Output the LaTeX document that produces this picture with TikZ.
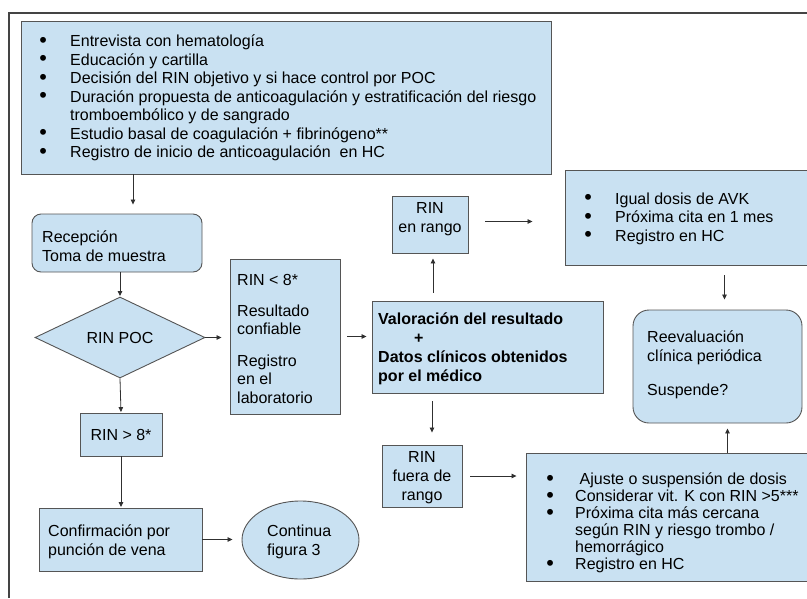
\documentclass[tikz,border=0pt]{standalone}
\usepackage{fontspec}
\setmainfont{Liberation Sans}
\usetikzlibrary{shapes.geometric,arrows.meta}
\definecolor{bfill}{HTML}{C9E1F2}
\definecolor{bdraw}{HTML}{555555}
\definecolor{lnk}{HTML}{303030}
\newcommand\bigbul{\smash{\raisebox{-0.6pt}{\scalebox{1.35}{\textbullet}}}}
\newcommand\bul{\makebox[30pt][l]{\hspace{-0.8pt}\bigbul}}
\newcommand\bulb{\makebox[28pt][l]{\hspace{-0.8pt}\bigbul}}
\begin{document}
\begin{tikzpicture}[x=1pt,y=-1pt,
  box/.style={draw=bdraw, fill=bfill, line width=0.9pt, inner sep=0pt},
  txt/.style={inner sep=0pt, align=left, font=\fontsize{16}{18.5}\selectfont},
  conn/.style={draw=lnk, line width=0.8pt, -{Triangle[length=5pt,width=4.5pt]}}]
\useasboundingbox (0,0) rectangle (807,598);
\draw[draw=bdraw!80!black, line width=1.1pt] (9,598) -- (9,13) -- (807,13);

% boxes
\node[box, minimum width=530, minimum height=153] (top) at (286,97.5) {};
\node[box, rounded corners=9pt, minimum width=170, minimum height=58] (rec) at (117,243) {};
\node[box, diamond, minimum width=170, minimum height=81, aspect=2.1] (dia) at (120,337.5) {};
\node[box, minimum width=110, minimum height=155] (r8) at (285,336.5) {};
\node[box, minimum width=76, minimum height=57] (rango) at (430,224.5) {};
\node[box, minimum width=231, minimum height=92] (val) at (487.5,347) {};
\node[box, minimum width=250, minimum height=95] (igual) at (690,217.5) {};
\node[box, rounded corners=16pt, minimum width=169, minimum height=113] (reev) at (717.5,366.5) {};
\node[box, minimum width=80, minimum height=62] (fuera) at (422,476) {};
\node[box, minimum width=289, minimum height=128] (br) at (670.5,517) {};
\node[box, minimum width=82, minimum height=43] (gt8) at (121,434.5) {};
\node[box, minimum width=163, minimum height=63] (conf) at (120.5,539.5) {};
\node[box, ellipse, minimum width=117, minimum height=78] (cont) at (300.5,540) {};

% texts
\node[txt, anchor=west] (tTop) at (40,98) {%
\bul Entrevista con hematología\\
\bul Educación y cartilla\\
\bul Decisión del RIN objetivo y si hace control por POC\\
\bul Duración propuesta de anticoagulación y estratificación del riesgo\\
\hspace*{30pt}tromboembólico y de sangrado\\
\bul Estudio basal de coagulación + fibrinógeno**\\
\bul Registro de inicio de anticoagulación\ \ en HC};
\node[txt, anchor=west, font=\fontsize{16}{19}\selectfont] (tRec) at (42,246) {Recepción\\Toma de muestra};
\node[txt] (tDia) at (120,338) {RIN POC};
\node[txt, anchor=west] (tR8) at (237,338.5) {RIN < 8*\\[12.5pt]Resultado\\confiable\\[13pt]Registro\\en el\\laboratorio};
\node[txt, align=center, font=\fontsize{16}{19}\selectfont] (tRango) at (430,219.5) {RIN\\en rango};
\node[txt, anchor=west, font=\fontsize{16}{19}\selectfont\bfseries] (tVal) at (378,348.5) {Valoración del resultado\\\hspace*{36pt}+\\Datos clínicos obtenidos\\por el médico};
\node[txt, anchor=west] (tIgual) at (585,218.5) {\bul Igual dosis de AVK\\\bul Próxima cita en 1 mes\\\bul Registro en HC};
\node[txt, anchor=west, font=\fontsize{16}{19}\selectfont] (tReev) at (647,365) {Reevaluación\\clínica periódica\\[15pt]Suspende?};
\node[txt, align=center, font=\fontsize{16}{19}\selectfont] (tFuera) at (422,478) {RIN\\fuera de\\rango};
\node[txt, anchor=west, font=\fontsize{16}{17}\selectfont] (tBr) at (547,523) {%
\bulb\ Ajuste o suspensión de dosis\\
\bulb Considerar vit. K con RIN >5***\\
\bulb Próxima cita más cercana\\
\hspace*{28pt}según RIN y riesgo trombo /\\
\hspace*{28pt}hemorrágico\\
\bulb Registro en HC};
\node[txt] (tGt8) at (121,435) {RIN > 8*};
\node[txt, anchor=west, font=\fontsize{16}{19}\selectfont] (tConf) at (48,542) {Confirmación por\\punción de vena};
\node[txt, anchor=west, font=\fontsize{16}{19}\selectfont] (tCont) at (267,542) {Continua\\figura 3};

% connectors
\draw[conn, shorten >=9pt] ([xshift=16pt]top.south -| rec.north) -- ([xshift=16pt]rec.north);
\draw[conn, shorten >=0.5pt] (rec.south -| dia.north) -- (dia.north);
\draw[conn, shorten >=8pt] (dia.east) -- (dia.east -| r8.west);
\draw[conn, shorten <=7pt, shorten >=5pt] (r8.east) -- (r8.east -| val.west);
\draw[conn, shorten <=8pt, shorten >=5pt] ([xshift=3pt]val.north -| rango.south) -- ([xshift=3pt]rango.south);
\draw[conn, shorten <=17pt, shorten >=32pt] ([yshift=3pt]rango.east) -- ([yshift=3pt]rango.east -| igual.west);
\draw[conn, shorten <=10pt, shorten >=10pt] ([xshift=7pt]igual.south -| reev.north) -- ([xshift=7pt]reev.north);
\draw[conn, shorten <=8pt, shorten >=12pt] ([xshift=2pt]val.south -| rango.south) -- ([xshift=2pt]fuera.north -| rango.south);
\draw[conn, shorten <=8pt, shorten >=9pt] (fuera.east) -- (fuera.east -| br.west);
\draw[conn, shorten >=5pt] ([xshift=10pt]br.north -| reev.south) -- ([xshift=10pt]reev.south);
\draw[conn, shorten >=0.5pt] (dia.south) -- (gt8.north);
\draw[conn, shorten >=0.5pt] (gt8.south) -- (conf.north -| gt8.south);
\draw[conn, shorten >=9pt] (conf.east) -- (conf.east -| cont.west);
\end{tikzpicture}
\end{document}
